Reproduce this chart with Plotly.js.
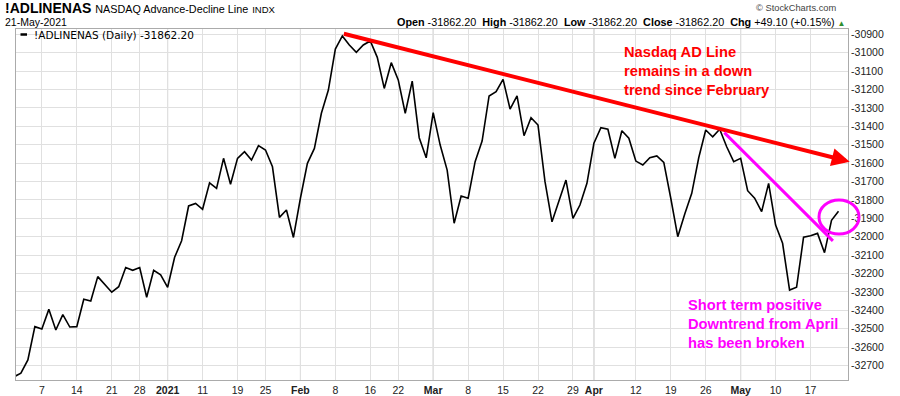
<!DOCTYPE html>
<html>
<head>
<meta charset="utf-8">
<script src="https://cdn.plot.ly/plotly-3.0.1.min.js"></script>
<style>
html,body{margin:0;padding:0;background:#ffffff;}
#chart{width:900px;height:396px;}
</style>
</head>
<body>
<div id="chart"></div>
<script>
// ---- data ----
const dates = [
'2020-12-01','2020-12-02','2020-12-03','2020-12-04','2020-12-07','2020-12-08','2020-12-09','2020-12-10','2020-12-11',
'2020-12-14','2020-12-15','2020-12-16','2020-12-17','2020-12-18','2020-12-21','2020-12-22','2020-12-23','2020-12-24',
'2020-12-28','2020-12-29','2020-12-30','2020-12-31','2021-01-04','2021-01-05','2021-01-06','2021-01-07','2021-01-08',
'2021-01-11','2021-01-12','2021-01-13','2021-01-14','2021-01-15','2021-01-19','2021-01-20','2021-01-21','2021-01-22',
'2021-01-25','2021-01-26','2021-01-27','2021-01-28','2021-01-29','2021-02-01','2021-02-02','2021-02-03','2021-02-04',
'2021-02-05','2021-02-08','2021-02-09','2021-02-10','2021-02-11','2021-02-12','2021-02-16','2021-02-17','2021-02-18',
'2021-02-19','2021-02-22','2021-02-23','2021-02-24','2021-02-25','2021-02-26','2021-03-01','2021-03-02','2021-03-03',
'2021-03-04','2021-03-05','2021-03-08','2021-03-09','2021-03-10','2021-03-11','2021-03-12','2021-03-15','2021-03-16',
'2021-03-17','2021-03-18','2021-03-19','2021-03-22','2021-03-23','2021-03-24','2021-03-25','2021-03-26','2021-03-29',
'2021-03-30','2021-03-31','2021-04-01','2021-04-05','2021-04-06','2021-04-07','2021-04-08','2021-04-09','2021-04-12',
'2021-04-13','2021-04-14','2021-04-15','2021-04-16','2021-04-19','2021-04-20','2021-04-21','2021-04-22','2021-04-23',
'2021-04-26','2021-04-27','2021-04-28','2021-04-29','2021-04-30','2021-05-03','2021-05-04','2021-05-05','2021-05-06',
'2021-05-07','2021-05-10','2021-05-11','2021-05-12','2021-05-13','2021-05-14','2021-05-17','2021-05-18','2021-05-19',
'2021-05-20','2021-05-21'
];
const adLine = [
-32762,-32742,-32670,-32489,-32502,-32395,-32507,-32424,-32491,
-32489,-32340,-32350,-32217,-32259,-32302,-32272,-32168,-32183,
-32168,-32329,-32183,-32207,-32275,-32112,-32022,-31833,-31819,
-31851,-31707,-31737,-31574,-31715,-31574,-31538,-31583,-31505,
-31529,-31620,-31895,-31855,-32004,-31791,-31601,-31520,-31329,
-31203,-30980,-30909,-30958,-30998,-30958,-30936,-31025,-31194,
-31054,-31148,-31329,-31154,-31462,-31571,-31326,-31502,-31638,
-31927,-31779,-31791,-31592,-31480,-31235,-31212,-31145,-31306,
-31234,-31451,-31353,-31393,-31701,-31919,-31806,-31692,-31900,
-31828,-31710,-31492,-31408,-31416,-31574,-31424,-31465,-31589,
-31610,-31571,-31561,-31596,-31791,-32000,-31877,-31764,-31571,
-31420,-31457,-31416,-31511,-31592,-31574,-31750,-31791,-31864,
-31710,-31937,-32036,-32290,-32275,-32003,-31995,-31982,-32087,
-31911.3,-31862.2
];
const tickDates  = ['2020-12-07','2020-12-14','2020-12-21','2020-12-28','2021-01-04','2021-01-11','2021-01-19','2021-01-25',
                    '2021-02-01','2021-02-08','2021-02-16','2021-02-22','2021-03-01','2021-03-08','2021-03-15','2021-03-22',
                    '2021-03-29','2021-04-01','2021-04-12','2021-04-19','2021-04-26','2021-05-03','2021-05-10','2021-05-17'];
const tickLabels = ['7','14','21','28','2021','11','19','25','Feb','8','16','22','Mar','8','15','22','29','Apr','12','19','26','May','10','17'];
const monthStarts = ['2021-01-04','2021-02-01','2021-03-01','2021-04-01','2021-05-03'];
const yTicks = [-32700,-32600,-32500,-32400,-32300,-32200,-32100,-32000,-31900,-31800,-31700,-31600,-31500,-31400,-31300,-31200,-31100,-31000,-30900];
// trend lines drawn on the chart (x = trading-day index, y = value)
const redTrendX = [47, 119.6];
const redTrendY = [-30895, -31592];
const pinkTrendX = [101.45, 117.2];
const pinkTrendY = [-31426, -32023];

// ---- derived header values ----
const last = adLine[adLine.length - 1];
const prev = adLine[adLine.length - 2];
const chg = last - prev;
const pct = chg / Math.abs(prev) * 100;
const f2 = v => v.toFixed(2);

const FONT = 'Liberation Sans, Arial, sans-serif';
const L = 16, R = 848, T = 29, B = 380;
const px2x = p => (p - L) / (R - L);
const px2y = p => (B - p) / (B - T);
const nb = '\u00A0';

const trace = {
  x: dates, y: adLine, type: 'scatter', mode: 'lines',
  line: {color: '#000000', width: 1.6},
  hoverinfo: 'skip', cliponaxis: true
};

const monthShapes = monthStarts.map(d => ({
  type: 'line', xref: 'x', yref: 'paper',
  x0: dates.indexOf(d), x1: dates.indexOf(d), y0: 0, y1: 1,
  line: {color: '#b9b9b9', width: 1}, layer: 'between'
}));

const shapes = monthShapes.concat([
  {type: 'rect', xref: 'paper', yref: 'paper', x0: 0.001, x1: px2x(199), y0: px2y(39), y1: 0.998,
   fillcolor: '#ffffff', line: {width: 0}, layer: 'between'},
  {type: 'line', xref: 'paper', yref: 'paper', x0: px2x(20.5), x1: px2x(27), y0: px2y(34.5), y1: px2y(34.5),
   line: {color: '#000000', width: 2.5}, layer: 'above'},
  {type: 'circle', xref: 'paper', yref: 'paper', x0: px2x(819), x1: px2x(859), y0: px2y(234), y1: px2y(200),
   line: {color: '#ff00ff', width: 3}, layer: 'above'}
]);

const headRight =
  '<b>Open</b> ' + f2(last) + nb + nb +
  '<b>High</b> ' + f2(last) + nb + nb +
  '<b>Low</b> ' + f2(last) + nb + nb +
  '<b>Close</b> ' + f2(last) + nb + nb +
  '<b>Chg</b> ' + (chg >= 0 ? '+' : '') + chg.toFixed(2) + ' (' + (pct >= 0 ? '+' : '') + pct.toFixed(2) + '%) ' +
  '<span style="color:#2f8f2f;font-size:8px">▲</span>';

const annotations = [
  // header
  {xref: 'paper', yref: 'paper', x: px2x(3), y: px2y(7.8), xanchor: 'left', yanchor: 'middle', showarrow: false,
   text: '<b>!ADLINENAS</b> <span style="font-size:10.8px">NASDAQ Advance-Decline Line</span> <span style="font-size:9.5px">INDX</span>',
   font: {family: FONT, size: 14, color: '#000'}},
  {xref: 'paper', yref: 'paper', x: px2x(3), y: px2y(21.8), xanchor: 'left', yanchor: 'middle', showarrow: false,
   text: '21-May-2021', font: {family: FONT, size: 10.5, color: '#000'}},
  {xref: 'paper', yref: 'paper', x: px2x(838), y: px2y(8), xanchor: 'right', yanchor: 'middle', showarrow: false,
   text: '© StockCharts.com', font: {family: FONT, size: 9.3, color: '#444'}},
  {xref: 'paper', yref: 'paper', x: 1, y: px2y(21.8), xanchor: 'right', yanchor: 'middle', showarrow: false,
   text: headRight, font: {family: FONT, size: 10.8, color: '#000'}},
  // legend
  {xref: 'paper', yref: 'paper', x: px2x(32), y: px2y(34.5), xanchor: 'left', yanchor: 'middle', showarrow: false,
   text: '!ADLINENAS (Daily) ' + f2(last), font: {family: 'DejaVu Sans, Verdana, sans-serif', size: 10.5, color: '#000'}},
  // red trend line with arrow
  {xref: 'x', yref: 'y', axref: 'x', ayref: 'y', x: redTrendX[1], y: redTrendY[1], ax: redTrendX[0], ay: redTrendY[0],
   text: '', showarrow: true, arrowhead: 2, arrowsize: 0.9, arrowwidth: 4, arrowcolor: '#ff0000', standoff: 0, startstandoff: 0},
  // magenta trend line
  {xref: 'x', yref: 'y', axref: 'x', ayref: 'y', x: pinkTrendX[1], y: pinkTrendY[1], ax: pinkTrendX[0], ay: pinkTrendY[0],
   text: '', showarrow: true, arrowhead: 0, arrowwidth: 3, arrowcolor: '#ff00ff', standoff: 0, startstandoff: 0},
  // comments
  {xref: 'paper', yref: 'paper', x: px2x(622), y: px2y(42), xanchor: 'left', yanchor: 'top', align: 'left', showarrow: false,
   text: 'Nasdaq AD Line<br>remains in a down<br>trend since February',
   font: {family: FONT, size: 14.7, color: '#ff0000', weight: 'bold'}},
  {xref: 'paper', yref: 'paper', x: px2x(685.5), y: px2y(295), xanchor: 'left', yanchor: 'top', align: 'left', showarrow: false,
   text: 'Short term positive<br>Downtrend from April<br>has been broken',
   font: {family: FONT, size: 14.7, color: '#ff00ff', weight: 'bold'}}
];

const layout = {
  width: 900, height: 396,
  margin: {l: L, r: 900 - R, t: T, b: 396 - B, pad: 0},
  paper_bgcolor: '#ffffff', plot_bgcolor: '#ffffff',
  showlegend: false,
  font: {family: FONT, size: 10.5, color: '#222'},
  xaxis: {
    type: 'category', range: [0.3, 119.36], autorange: false,
    tickmode: 'array', tickvals: tickDates,
    ticktext: tickLabels.map(t => isNaN(+t) || t === '2021' ? '<b>' + t + '</b>' : t),
    showgrid: true, gridcolor: '#e0e0e0', gridwidth: 1,
    showline: true, linecolor: '#ababab', linewidth: 1, mirror: true,
    ticks: '', tickfont: {family: FONT, size: 10.5, color: '#222'},
    zeroline: false, automargin: false, fixedrange: true
  },
  yaxis: {
    side: 'right', range: [-32779, -30871], autorange: false,
    tickmode: 'array', tickvals: yTicks, ticktext: yTicks.map(v => String(v)),
    showgrid: true, gridcolor: '#e0e0e0', gridwidth: 1,
    showline: true, linecolor: '#ababab', linewidth: 1, mirror: true,
    ticks: '', tickfont: {family: FONT, size: 10.5, color: '#222'},
    zeroline: false, automargin: false, fixedrange: true
  },
  shapes: shapes,
  annotations: annotations
};

Plotly.newPlot('chart', [trace], layout, {staticPlot: true, displayModeBar: false});
</script>
</body>
</html>
